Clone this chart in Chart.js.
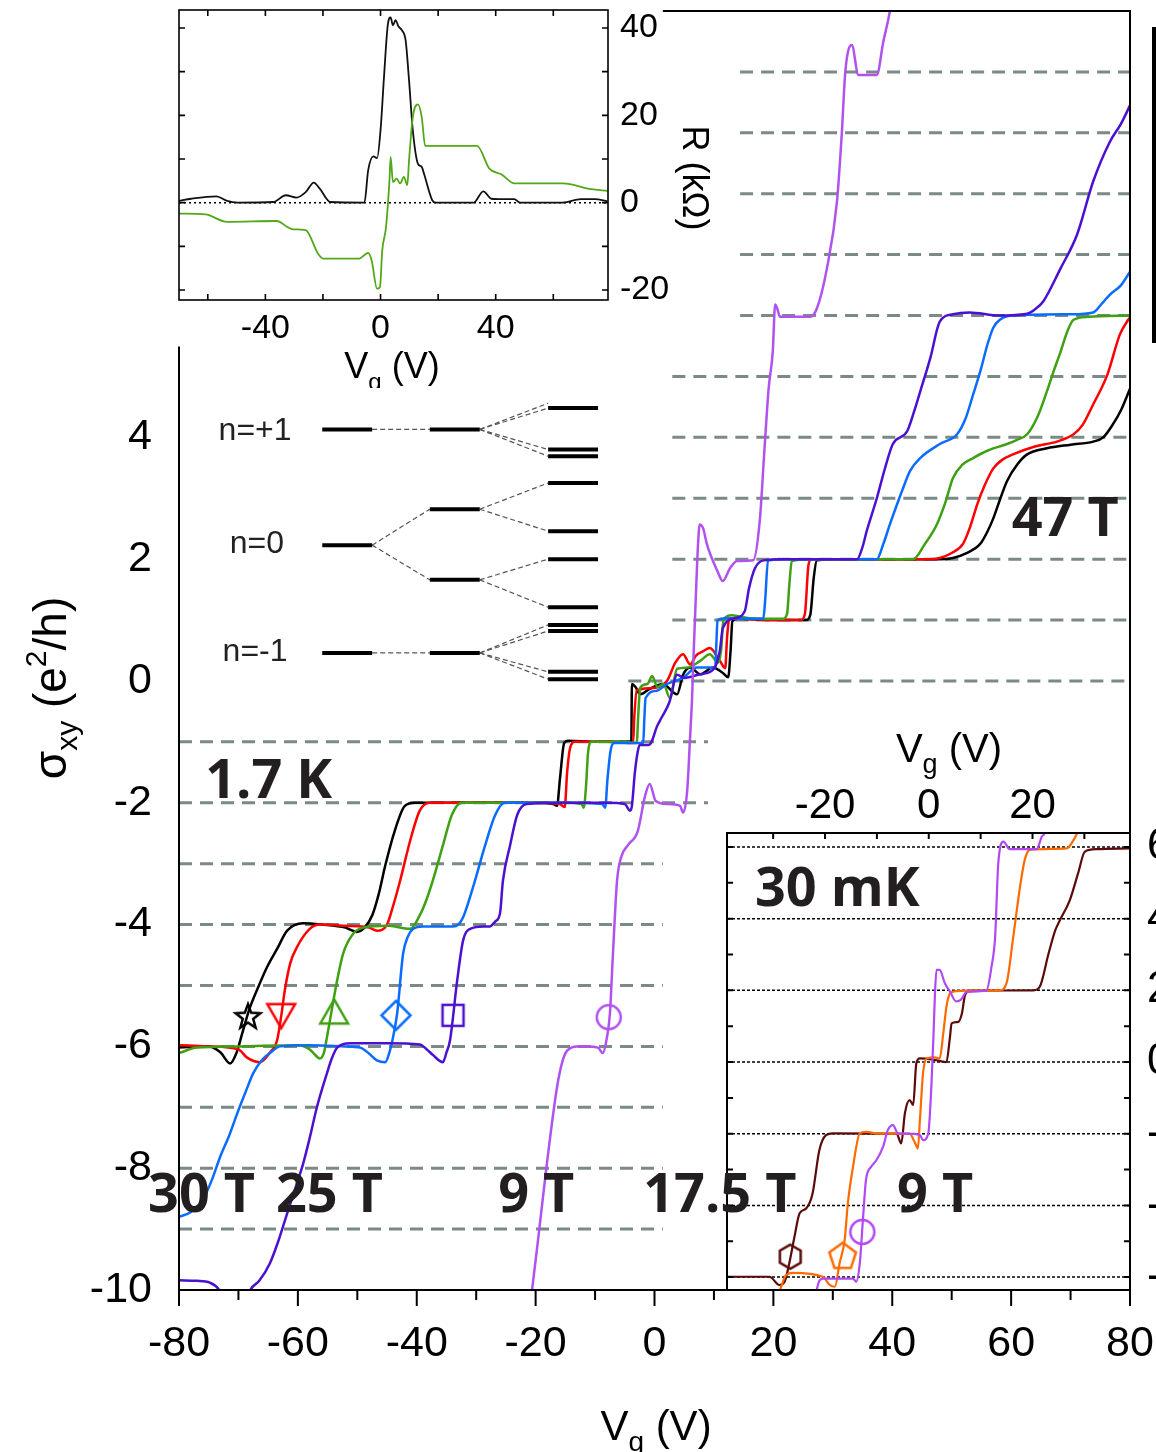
<!DOCTYPE html>
<html>
<head>
<meta charset="utf-8">
<script src="https://cdn.jsdelivr.net/npm/chart.js@4.4.1/dist/chart.umd.min.js"></script>
<style>
  html, body { margin: 0; padding: 0; background: #fff; overflow: hidden; width: 1156px; height: 1452px; }
  canvas { position: absolute; left: 0; top: 0; }
</style>
</head>
<body>
<canvas id="main" width="1156" height="1452"></canvas>
<canvas id="insetR" width="1156" height="1452"></canvas>
<canvas id="insetLow" width="1156" height="1452"></canvas>
<script>
// ---- main panel, 1.7 K : sigma_xy (e^2/h) vs Vg (V) ----
const mainXTicks = [-80, -60, -40, -20, 0, 20, 40, 60, 80];
const mainXMinor = [-70, -50, -30, -10, 10, 30, 50, 70];
const mainYTicks = [4, 2, 0, -2, -4, -6, -8, -10];

const black = [[-80,-6.02],[-75,-6.0],[-73,-6.1],[-71.4,-6.28],[-70.3,-6.1],[-69.4,-5.8],[-68.2,-5.4],[-66.9,-5.08],[-65.2,-4.7],[-63.5,-4.4],[-61.8,-4.1],[-59.1,-3.98],[-56,-4.0],[-52,-4.05],[-50.1,-4.12],[-48.8,-4.05],[-47.5,-3.85],[-46.4,-3.5],[-45.3,-3.03],[-43.7,-2.46],[-42,-2.05],[-40.3,-2.0],[-30,-2.0],[-20,-2.0],[-17,-2.02],[-16.4,-2.05],[-15.9,-1.6],[-15.2,-1.02],[-14.5,-0.98],[-10,-1.0],[-4.2,-1.0],[-3.9,-0.98],[-3.8,-0.05],[-3.2,-0.1],[-2.4,-0.22],[-0.8,-0.13],[1.4,-0.05],[3.8,-0.22],[4.8,0.1],[6,0.22],[7.7,0.11],[9.8,0.22],[11.5,0.13],[12.4,0.06],[12.8,0.5],[13.1,0.98],[14,1.02],[20,1.0],[25.5,1.0],[26.2,1.08],[26.8,1.7],[27.3,1.98],[30,2.0],[40,2.0],[48,2.0],[50.2,2.02],[52.5,2.1],[54.8,2.25],[56,2.45],[57,2.67],[58.2,3.0],[59.3,3.28],[61,3.55],[62.7,3.72],[66,3.82],[70,3.88],[73.8,3.93],[75.5,4.0],[77.1,4.21],[78.5,4.45],[80,4.8]];
const red = [[-80,-5.98],[-75,-6.0],[-70,-6.05],[-68.6,-6.18],[-66.4,-6.26],[-64.7,-6.1],[-63.5,-5.9],[-62.8,-5.5],[-62.2,-5.08],[-61.3,-4.64],[-60.1,-4.36],[-58,-4.07],[-56.3,-4.0],[-52,-4.02],[-48,-4.05],[-46.7,-4.1],[-45,-4.0],[-44,-3.7],[-42.8,-3.28],[-41.1,-2.62],[-39.5,-2.13],[-37.8,-2.0],[-30,-2.0],[-20,-2.0],[-16,-2.02],[-15.1,-2.07],[-14.7,-1.5],[-14.2,-1.1],[-13.4,-1.0],[-8,-1.0],[-3.6,-1.02],[-3.4,-0.6],[-3.0,-0.16],[-0.8,-0.12],[2.1,0.0],[3.5,0.3],[4.8,0.44],[6,0.27],[7.0,0.42],[8.2,0.49],[9.3,0.54],[11.0,0.33],[11.9,0.21],[12.2,0.7],[12.6,1.03],[15,1.02],[20,1.0],[24.6,1.0],[25.3,1.1],[25.9,1.9],[26.4,2.0],[30,2.0],[40,2.0],[46,2.0],[48,2.02],[50,2.1],[51.9,2.25],[53,2.5],[54.3,2.9],[55.5,3.2],[57,3.49],[58.5,3.63],[60.3,3.72],[64,3.85],[67.7,3.93],[70.5,4.05],[72,4.2],[73.8,4.54],[76.2,5.03],[78.3,5.69],[79.7,5.93],[80,5.97]];
const green = [[-80,-6.11],[-77,-6.02],[-70,-6.0],[-60,-5.98],[-58,-6.05],[-57,-6.15],[-56.3,-6.2],[-55.6,-6.1],[-55.2,-5.9],[-54.6,-5.57],[-53.4,-4.92],[-52.4,-4.48],[-50.7,-4.15],[-49,-4.05],[-45,-4.02],[-41.1,-4.07],[-39.5,-3.85],[-38.4,-3.6],[-37.3,-3.28],[-35.6,-2.7],[-34.1,-2.2],[-32.4,-2.0],[-25,-2.0],[-15,-2.0],[-12.3,-2.02],[-11.9,-2.08],[-11.5,-1.7],[-11.2,-1.2],[-10.6,-1.0],[-5,-1.0],[-3.0,-1.02],[-2.7,-0.5],[-2.4,-0.11],[-1.2,-0.05],[-0.4,0.08],[0.5,-0.1],[1.5,-0.05],[2.6,-0.28],[3.8,0.2],[5.5,0.22],[7.7,0.33],[9.3,0.44],[10.7,0.3],[11.2,0.5],[11.6,1.0],[13,1.08],[16,1.03],[21.6,1.02],[22.3,1.1],[22.7,1.6],[23.1,1.97],[26,2.0],[35,2.0],[40,2.0],[43.5,2.0],[45.5,2.25],[47.5,2.57],[49,2.95],[50.2,3.33],[51.8,3.55],[53.6,3.66],[56,3.78],[59.3,3.89],[61,3.96],[62.7,4.05],[64.5,4.35],[66,4.75],[67.2,5.1],[68.3,5.4],[69.5,5.75],[70.5,5.93],[73,5.98],[80,6.0]];
const blue = [[-80,-8.8],[-78,-8.72],[-76,-8.52],[-74.5,-8.2],[-73.1,-7.82],[-71.5,-7.45],[-70.2,-7.1],[-68.8,-6.75],[-67.5,-6.44],[-66,-6.22],[-64.7,-6.11],[-63,-6.0],[-58,-5.98],[-52,-6.0],[-49.5,-6.02],[-48,-6.12],[-46.7,-6.23],[-45.3,-6.26],[-44.6,-6.1],[-44.2,-5.95],[-43.3,-5.46],[-42.3,-4.48],[-41.5,-4.2],[-40.6,-4.07],[-39,-4.03],[-36,-4.03],[-33.9,-4.03],[-33,-4.0],[-32.2,-3.88],[-31.2,-3.6],[-30.2,-3.28],[-28.5,-2.7],[-26.8,-2.2],[-25.2,-2.0],[-15,-2.0],[-8.8,-2.02],[-8.3,-2.08],[-7.9,-1.6],[-7.4,-1.15],[-6.8,-1.02],[-3,-1.02],[-1.9,-1.02],[-1.7,-0.6],[-1.5,-0.28],[0.4,-0.16],[2.1,-0.05],[4.8,0.05],[7.1,0.22],[9.3,0.22],[10.2,0.2],[10.4,0.6],[10.6,1.0],[12,1.03],[15,1.02],[18.3,1.02],[18.6,1.3],[19.1,1.98],[22,2.0],[30,2.0],[35,2.0],[37.4,2.0],[38.5,2.25],[39.6,2.57],[41.8,3.16],[43,3.45],[44.7,3.66],[48,3.89],[50.9,4.05],[52.3,4.3],[53.6,4.7],[55,5.15],[56,5.52],[57,5.8],[58.1,5.93],[60,6.0],[70,6.02],[73.8,6.05],[75.3,6.2],[76.6,6.34],[78.5,6.5],[80,6.72]];
const indigo = [[-80,-9.84],[-77,-9.85],[-74.8,-9.88],[-73.1,-10.02],[-72,-10.3],[-69,-10.3],[-68,-10.0],[-66.5,-9.85],[-64.7,-9.56],[-63.3,-9.2],[-61.8,-8.74],[-60.5,-8.35],[-59.1,-7.92],[-58,-7.5],[-56.8,-7.0],[-55.1,-6.44],[-54.3,-6.2],[-53.4,-6.02],[-51.2,-5.95],[-45,-5.95],[-39.5,-5.97],[-38.3,-6.05],[-37.3,-6.14],[-35.6,-6.26],[-35,-6.1],[-34.4,-5.9],[-33.2,-4.92],[-32.2,-4.26],[-31,-4.07],[-28.8,-4.03],[-27.7,-4.03],[-26.8,-3.95],[-26,-3.82],[-25.5,-3.28],[-24.3,-2.7],[-23.1,-2.2],[-21.5,-2.02],[-15,-2.0],[-8,-2.0],[-5,-2.02],[-4.1,-2.13],[-3.8,-2.05],[-3.3,-1.5],[-2.8,-1.15],[-2.5,-1.05],[-1,-1.05],[-0.5,-1.0],[0.4,-0.75],[1.2,-0.6],[2.5,-0.35],[3.8,0.1],[5,0.05],[7.7,0.11],[10,0.2],[11,0.5],[11.5,0.87],[13.5,1.03],[15.2,1.15],[15.9,1.52],[16.9,1.85],[18.3,1.98],[22,2.0],[30,2.0],[34.1,2.0],[35,2.2],[35.7,2.46],[37.4,3.0],[38.8,3.5],[40.1,3.89],[42.5,4.1],[43.6,4.4],[44.7,4.75],[46.4,5.3],[48,5.9],[50.2,6.02],[53,6.05],[58,6.0],[62.7,6.03],[64,6.1],[65.4,6.23],[68.3,6.77],[71.1,7.33],[73.8,8.2],[76.6,8.85],[78.5,9.15],[80,9.45]];
const violet = [[-21,-10.3],[-20.6,-10],[-19.5,-9.1],[-18.1,-7.92],[-16.4,-6.67],[-15.5,-6.25],[-14.7,-6.07],[-13,-6.0],[-11.4,-6.0],[-9.5,-6.02],[-8.7,-6.11],[-8.0,-5.85],[-7.5,-5.46],[-7,-4.5],[-6.3,-3.28],[-5.6,-2.89],[-4.5,-2.7],[-2.8,-2.46],[-1.6,-1.89],[-0.8,-1.69],[0.2,-1.97],[2.1,-2.02],[4.3,-2.05],[4.8,-2.16],[5.5,-1.8],[6.0,-0.9],[6.3,-0.33],[6.6,0.5],[7.0,1.5],[7.3,2.2],[7.6,2.57],[8.2,2.5],[8.8,2.25],[10.6,1.8],[11.5,1.64],[12.7,1.85],[13.9,1.97],[16.6,1.98],[17.7,2.62],[18.5,3.8],[19.2,4.8],[19.9,5.41],[20.3,6.18],[20.7,6.1],[21.1,5.98],[26.2,5.98],[27.3,6.11],[29,6.77],[30.7,7.87],[31.5,8.97],[32.1,10],[33.2,10.44],[34.3,9.95],[37.4,9.95],[38.5,10.5],[39.6,11.0],[40,11.3]];

// marker symbols: star, down triangle, up triangle, diamond, square, circle
const markerX = [-68.4, -62.8, -53.9, -43.5, -33.9, -7.7];
const markerY = [-5.52, -5.49, -5.44, -5.49, -5.49, -5.52];

// dashed plateau guides: [level, from Vg, to Vg]
const guideLines = [[10,14.4,80],[9,14.4,80],[8,14.4,80],[7,14.4,80],[6,14.4,80],[5,3,80],[4,3,80],[3,3,80],[2,3,80],[1,3,80],[0,-4.4,80],[-1,-80,9],[-2,-80,9],[-3,-80,1.4],[-4,-80,1.4],[-5,-80,1.4],[-6,-80,1.4],[-7,-80,1.4],[-8,-80,1.4],[-9,-80,1.4]];

// Landau level sketch: solid levels [x1, x2, y], connectors [x1, y1, x2, y2]
const levelSolid = [[-55.9,-47.5,4.13],[-37.8,-29.4,4.13],[-17.9,-9.5,4.48],[-17.9,-9.5,3.80],[-17.9,-9.5,3.69],
  [-55.9,-47.5,2.23],[-37.8,-29.4,2.82],[-37.8,-29.4,1.66],[-17.9,-9.5,3.25],[-17.9,-9.5,2.46],[-17.9,-9.5,2.0],[-17.9,-9.5,1.21],
  [-55.9,-47.5,0.46],[-37.8,-29.4,0.46],[-17.9,-9.5,0.92],[-17.9,-9.5,0.82],[-17.9,-9.5,0.15],[-17.9,-9.5,0.03]];
const levelDash = [[-47.5,4.13,-37.8,4.13],[-29.4,4.13,-17.9,4.56],[-29.4,4.13,-17.9,4.48],[-29.4,4.13,-17.9,3.80],[-29.4,4.13,-17.9,3.69],
  [-47.5,2.23,-37.8,2.82],[-47.5,2.23,-37.8,1.66],[-29.4,2.82,-17.9,3.25],[-29.4,2.82,-17.9,2.46],[-29.4,1.66,-17.9,2.0],[-29.4,1.66,-17.9,1.21],
  [-47.5,0.46,-37.8,0.46],[-29.4,0.46,-17.9,0.92],[-29.4,0.46,-17.9,0.82],[-29.4,0.46,-17.9,0.15],[-29.4,0.46,-17.9,0.03]];
const levelNames = ['n=+1', 'n=0', 'n=-1'];
const levelNameX = [-67.2, -66.9, -67.2];
const levelNameY = [4.1, 2.25, 0.48];

// field / temperature labels (main-panel coordinates, left edge + baseline)
const noteText = ['1.7 K', '47 T', '30 T', '25 T', '9 T', '17.5 T', '9 T', '30 mK'];
const noteX = [-75.6, 60.1, -85.2, -63.7, -26.3, -1.9, 40.8, 16.9];
const noteY = [-1.93, 2.38, -8.72, -8.72, -8.72, -8.72, -8.72, -3.69];

// ---- upper inset: R (kOhm) vs Vg ----
const rXTicks = [-40, 0, 40];
const rYTicks = [40, 20, 0, -20];
const rxx = [[-70.1,0.4],[-65.8,0.9],[-57,1.45],[-53.3,0.4],[-49.6,0],[-37.2,0.15],[-32.9,1.7],[-29.2,1.15],[-26,2.4],[-23.2,4.6],[-21.1,3.2],[-17.4,0.15],[-5.6,0],[-4.3,7.4],[-2.5,10.6],[-1.2,10.2],[0,16.6],[1.2,28.8],[2.5,40.6],[3.5,42.4],[4.3,40.6],[5.2,41.8],[6.2,40.4],[7.4,39.5],[8.7,37.2],[9.9,28],[11.2,16.6],[13,8.9],[14.3,8.2],[15.1,6.6],[18,0.5],[19.2,0],[32.3,0],[35.7,2.6],[38.5,0.9],[42.2,0.8],[46.5,0.8],[48.4,0],[63.3,0],[69.5,0.8],[74.4,0.8],[78.8,0.3]];
const rxy = [[-70,-2.5],[-60.8,-2.7],[-53.3,-4.4],[-36,-4.2],[-32.3,-5.6],[-30.4,-6.1],[-26,-6.3],[-21.7,-11.7],[-19.9,-12.8],[-7.4,-12.8],[-4.3,-11.5],[-3.1,-13.2],[-1.2,-19.7],[-0.2,-19.3],[0.6,-10.9],[1.9,-5.6],[3.1,5.1],[3.5,10.5],[4.3,4.7],[5.6,5.5],[6.8,4.4],[8.1,5.9],[9.3,4.0],[9.9,9.7],[11.2,19.6],[13,22.5],[14.3,19.6],[15.5,13],[33.5,13],[37.8,7.8],[42.2,6.4],[46.5,4.4],[63.3,4.4],[73.2,3.1],[78.8,2.7]];

// ---- lower inset, 30 mK ----
const lowXTicks = [-20, 0, 20];
const lowYTicks = [6, 4, 2, 0, -2, -4, -6];
const lowLevels = [6, 4, 2, 0, -2, -4, -6];
const maroon = [[-39.1,-5.99],[-30.7,-5.99],[-28.8,-6.22],[-27.8,-6.13],[-26.9,-5.62],[-25.9,-4.88],[-24.9,-4.22],[-23.6,-4.08],[-22.4,-3.67],[-21.1,-2.46],[-19.8,-2.04],[-18.5,-1.99],[-6.2,-2.0],[-5.3,-2.27],[-4.6,-1.43],[-3.7,-1.06],[-3.0,-1.2],[-2.4,-0.04],[-1.7,0.1],[1.5,0.05],[3.4,0.0],[4.1,0.71],[4.4,1.08],[5.7,1.12],[6.4,1.36],[7.0,1.87],[8.0,1.99],[20.2,2.0],[21.4,2.1],[23.1,3.03],[24.4,3.68],[25.3,3.96],[27.2,4.52],[28.8,5.27],[30.1,5.87],[32.4,5.94],[38.8,5.96]];
const orange = [[-28.8,-6.41],[-27.5,-5.94],[-26.2,-5.88],[-20.4,-5.99],[-19.1,-6.22],[-18.1,-6.27],[-17.2,-5.62],[-16.2,-4.95],[-15.6,-3.94],[-14.6,-2.92],[-13.3,-1.99],[-12.1,-1.95],[-9.5,-2.0],[-3.7,-2.0],[-2.7,-2.24],[-2.1,-2.41],[-1.7,-1.6],[-1.1,-0.31],[-0.4,0.1],[1.2,0.13],[2.1,0.1],[2.8,0.8],[3.4,1.54],[4.1,1.91],[5.3,1.98],[7.3,1.99],[13.7,2.0],[15.0,2.2],[16.3,3.5],[17.6,4.89],[18.5,5.64],[19.5,5.92],[26.6,5.96],[27.9,6.19],[28.6,6.38],[29.5,6.7]];
const lilac = [[-21.7,-6.41],[-21.1,-6.1],[-20.4,-6.04],[-14.6,-6.04],[-14.0,-6.13],[-13.3,-5.62],[-12.7,-4.41],[-12.1,-3.29],[-11.1,-2.92],[-10.1,-2.74],[-8.8,-2.36],[-7.9,-1.9],[-6.9,-1.76],[-5.9,-2.0],[-4.3,-2.0],[-1.7,-2.04],[-1.1,-2.18],[-0.1,-2.0],[0.5,-0.69],[0.9,0.7],[1.2,1.92],[1.5,2.57],[2.1,2.57],[3.1,2.2],[4.1,1.96],[5.3,1.69],[6.2,1.74],[7.3,1.96],[11.1,1.99],[12.1,2.66],[12.8,3.5],[13.4,5.54],[14.4,6.15],[15.6,5.94],[20.8,5.94],[21.8,6.29],[22.4,6.39],[23,6.8]];
// hexagon, pentagon, circle
const lowMarkX = [-26.7, -16.6, -12.8];
const lowMarkY = [-5.43, -5.43, -4.74];

Chart.defaults.animation = false;
Chart.defaults.color = '#000';
const REG = '"Liberation Sans", Arial, sans-serif';
const BOLD = '"Open Sans", "DejaVu Sans", sans-serif';
Chart.defaults.font.family = REG;

function pts(a) { return a.map(p => ({ x: p[0], y: p[1] })); }
function curve(a, color, w) {
  return { data: pts(a), borderColor: color, borderWidth: w, pointRadius: 0, fill: false,
           cubicInterpolationMode: 'monotone' };
}
function symbol(kind, color, size) {
  const c = document.createElement('canvas');
  const s = Math.ceil(size + 6);
  c.width = s; c.height = s;
  const g = c.getContext('2d');
  g.strokeStyle = color; g.lineWidth = 2.5;
  const m = s / 2, r = size / 2;
  g.beginPath();
  if (kind === 'circle') g.arc(m, m, r, 0, Math.PI * 2);
  else if (kind === 'square') g.rect(m - r, m - r, 2 * r, 2 * r);
  else {
    const n = { star: 10, tridown: 3, triup: 3, diamond: 4, pentagon: 5, hexagon: 6 }[kind];
    const start = kind === 'tridown' ? 90 : -90;
    const dy = kind === 'triup' ? r * 0.2 : kind === 'tridown' ? -r * 0.2 : 0;
    for (let i = 0; i < n; i++) {
      const rr = (kind === 'star' && i % 2) ? r * 0.42 : r;
      const ang = (start + i * 360 / n) * Math.PI / 180;
      const px = m + rr * Math.cos(ang), py = m + dy + rr * Math.sin(ang);
      if (i) g.lineTo(px, py); else g.moveTo(px, py);
    }
    g.closePath();
  }
  g.stroke();
  return c;
}
function marker(x, y, img) {
  return { data: [{ x: x, y: y }], showLine: false, pointStyle: img, pointRadius: 10, order: -1 };
}
function fixedAxis(opts, size, vertical) {
  return Object.assign({
    type: 'linear',
    grid: { display: false },
    border: { display: false },
    afterFit: s => {
      if (vertical) s.width = size; else s.height = size;
      s.paddingLeft = s.paddingRight = s.paddingTop = s.paddingBottom = 0;
    }
  }, opts);
}
function setTicks(list) { return s => { s.ticks = list.map(v => ({ value: v })); }; }
function tickMarks(ctx, scale, values, pos, len, horizontal) {
  ctx.beginPath();
  values.forEach(v => {
    const p = scale.getPixelForValue(v);
    if (horizontal) { ctx.moveTo(p, pos); ctx.lineTo(p, pos + len); }
    else { ctx.moveTo(pos, p); ctx.lineTo(pos + len, p); }
  });
  ctx.stroke();
}
// parts: [text, fontSize, baseline shift]
function richText(ctx, parts, family, x, y) {
  let total = 0;
  parts.forEach(p => { ctx.font = p[1] + 'px ' + family; total += ctx.measureText(p[0]).width; });
  let cx = x - total / 2;
  ctx.textAlign = 'left'; ctx.textBaseline = 'alphabetic';
  parts.forEach(p => {
    ctx.font = p[1] + 'px ' + family;
    ctx.fillText(p[0], cx, y + (p[2] || 0));
    cx += ctx.measureText(p[0]).width;
  });
}

// ---------- main chart ----------
const mainSets = [];
mainSets.push(marker(markerX[0], markerY[0], symbol('star', '#000', 26)));
mainSets.push(marker(markerX[1], markerY[1], symbol('tridown', '#ff0000', 32)));
mainSets.push(marker(markerX[2], markerY[2], symbol('triup', '#3ea012', 32)));
mainSets.push(marker(markerX[3], markerY[3], symbol('diamond', '#0a6cff', 29)));
mainSets.push(marker(markerX[4], markerY[4], symbol('square', '#4a12d0', 21)));
mainSets.push(marker(markerX[5], markerY[5], symbol('circle', '#b052f0', 24)));
mainSets.push(curve(violet, '#b052f0', 2.5));
mainSets.push(curve(indigo, '#4a12d0', 2.5));
mainSets.push(curve(blue, '#0a6cff', 2.5));
mainSets.push(curve(green, '#3ea012', 2.5));
mainSets.push(curve(red, '#ff0000', 2.5));
mainSets.push(curve(black, '#000000', 2.5));
levelSolid.forEach(s => mainSets.push({ data: [{ x: s[0], y: s[2] }, { x: s[1], y: s[2] }],
  borderColor: '#000', borderWidth: 4, pointRadius: 0, order: 5 }));
levelDash.forEach(s => mainSets.push({ data: [{ x: s[0], y: s[1] }, { x: s[2], y: s[3] }],
  borderColor: '#555', borderWidth: 1.2, borderDash: [5, 3], pointRadius: 0, order: 5 }));
guideLines.forEach(g => mainSets.push({ data: [{ x: g[1], y: g[0] }, { x: g[2], y: g[0] }],
  borderColor: '#7b8987', borderWidth: 3, borderDash: [13, 8], pointRadius: 0, order: 10 }));

const mainDeco = {
  id: 'mainDeco',
  afterDraw(chart) {
    const { ctx, chartArea: a, scales: { x, y } } = chart;
    ctx.save();
    ctx.strokeStyle = '#000'; ctx.lineWidth = 2;
    ctx.beginPath();
    ctx.moveTo(a.left, y.getPixelForValue(5.49));
    ctx.lineTo(a.left, a.bottom); ctx.lineTo(a.right, a.bottom);
    ctx.lineTo(a.right, a.top); ctx.lineTo(x.getPixelForValue(1.4), a.top);
    ctx.stroke();
    tickMarks(ctx, x, mainXTicks, a.bottom, 16, true);
    tickMarks(ctx, x, mainXMinor, a.bottom, 10, true);
    ctx.fillStyle = '#222';
    ctx.font = '32px ' + REG; ctx.textAlign = 'center'; ctx.textBaseline = 'middle';
    levelNames.forEach((t, i) => ctx.fillText(t, x.getPixelForValue(levelNameX[i]), y.getPixelForValue(levelNameY[i])));
    ctx.fillStyle = '#000';
    richText(ctx, [['V', 42], ['g', 28, 11], [' (V)', 42]], REG, 656, 1440);
    ctx.save();
    ctx.translate(66, 688); ctx.rotate(-Math.PI / 2);
    richText(ctx, [['σ', 46], ['xy', 30, 11], [' (e', 46], ['2', 30, -20], ['/h)', 46]], REG, 0, 0);
    ctx.restore();
    ctx.fillRect(1152, 27, 5, 316);
    ctx.restore();
  }
};

const mainChart = new Chart(document.getElementById('main'), {
  type: 'line',
  data: { datasets: mainSets },
  options: {
    responsive: false,
    layout: { padding: { top: 10, right: 26, left: 0, bottom: 0 } },
    plugins: { legend: { display: false }, tooltip: { enabled: false } },
    scales: {
      x: fixedAxis({ min: -80, max: 80, afterBuildTicks: setTicks(mainXTicks),
        ticks: { font: { family: REG, size: 43 }, padding: 20, maxRotation: 0, autoSkip: false, callback: v => String(v) } }, 162, false),
      y: fixedAxis({ min: -10, max: 11, afterBuildTicks: setTicks(mainYTicks),
        ticks: { font: { family: REG, size: 43 }, padding: 19, autoSkip: false, callback: v => String(v) } }, 179, true)
    }
  },
  plugins: [mainDeco]
});

// ---------- upper inset ----------
const insetRDeco = {
  id: 'insetRDeco',
  beforeDraw(chart) {
    const { ctx, chartArea: a } = chart;
    ctx.save(); ctx.fillStyle = '#fff'; ctx.fillRect(a.left, a.top, a.right - a.left, a.bottom - a.top); ctx.restore();
  },
  afterDraw(chart) {
    const { ctx, chartArea: a, scales: { x, y } } = chart;
    ctx.save();
    ctx.strokeStyle = '#000'; ctx.lineWidth = 1.6;
    ctx.strokeRect(a.left, a.top, a.right - a.left, a.bottom - a.top);
    const xt = [-60, -40, -20, 0, 20, 40, 60], yt = [40, 30, 20, 10, 0, -10, -20];
    tickMarks(ctx, x, xt, a.bottom, -6, true);
    tickMarks(ctx, x, xt, a.top, 6, true);
    tickMarks(ctx, y, yt, a.left, 6, false);
    tickMarks(ctx, y, yt, a.right, -6, false);
    ctx.beginPath(); ctx.rect(0, 0, 1156, 388); ctx.clip();
    ctx.fillStyle = '#000';
    richText(ctx, [['V', 36], ['g', 24, 12], [' (V)', 36]], REG, 392, 378);
    ctx.translate(683, 178); ctx.rotate(Math.PI / 2);
    richText(ctx, [['R (kΩ)', 36]], REG, 0, 0);
    ctx.restore();
  }
};
new Chart(document.getElementById('insetR'), {
  type: 'line',
  data: { datasets: [
    curve(rxy, '#52a818', 1.8),
    curve(rxx, '#111111', 1.8),
    { data: [{ x: -70, y: 0 }, { x: 79, y: 0 }], borderColor: '#000', borderWidth: 1.5, borderDash: [2, 3], pointRadius: 0 }
  ] },
  options: {
    responsive: false,
    layout: { padding: { left: 179, top: 10, right: 478, bottom: 1112 } },
    plugins: { legend: { display: false }, tooltip: { enabled: false } },
    scales: {
      x: fixedAxis({ position: 'bottom', min: -70, max: 79, afterBuildTicks: setTicks(rXTicks),
        ticks: { font: { family: REG, size: 34 }, padding: 0, maxRotation: 0, autoSkip: false, callback: v => String(v) } }, 40, false),
      y: fixedAxis({ position: 'right', min: -22.29, max: 44.12, afterBuildTicks: setTicks(rYTicks),
        ticks: { font: { family: REG, size: 34 }, padding: 4, autoSkip: false, callback: v => String(v) } }, 70, true)
    }
  },
  plugins: [insetRDeco]
});

// ---------- lower inset (30 mK) ----------
const lowSets = [
  marker(lowMarkX[0], lowMarkY[0], symbol('hexagon', '#5a0a0a', 24)),
  marker(lowMarkX[1], lowMarkY[1], symbol('pentagon', '#ff6a00', 28)),
  marker(lowMarkX[2], lowMarkY[2], symbol('circle', '#b148f5', 24)),
  curve(lilac, '#b148f5', 2.2),
  curve(orange, '#ff6a00', 2.2),
  curve(maroon, '#5a0a0a', 2.2)
];
lowLevels.forEach(v => lowSets.push({ data: [{ x: -38.9, y: v }, { x: 38.8, y: v }],
  borderColor: '#000', borderWidth: 1.5, borderDash: [3, 2], pointRadius: 0, order: 10 }));

const lowDeco = {
  id: 'lowDeco',
  beforeDraw(chart) {
    const { ctx, chartArea: a } = chart;
    ctx.save(); ctx.fillStyle = '#fff'; ctx.fillRect(a.left, a.top, a.right - a.left, a.bottom - a.top); ctx.restore();
  },
  afterDraw(chart) {
    const { ctx, chartArea: a, scales: { x, y } } = chart;
    ctx.save();
    ctx.strokeStyle = '#000'; ctx.lineWidth = 2;
    ctx.strokeRect(a.left, a.top, a.right - a.left, a.bottom - a.top);
    const xt = [-30, -20, -10, 0, 10, 20, 30], yt = [-6, -5, -4, -3, -2, -1, 0, 1, 2, 3, 4, 5, 6];
    tickMarks(ctx, x, xt, a.top, 6, true);
    tickMarks(ctx, y, yt, a.left, 6, false);
    tickMarks(ctx, y, yt, a.right, -6, false);
    ctx.fillStyle = '#000';
    richText(ctx, [['V', 40], ['g', 27, 11], [' (V)', 40]], REG, 949, 762);
    // annotations on top of everything, placed in main-panel coordinates
    const mx = mainChart.scales.x, my = mainChart.scales.y;
    ctx.fillStyle = '#231f20';
    ctx.font = 'bold 54px ' + BOLD; ctx.textAlign = 'left'; ctx.textBaseline = 'alphabetic';
    noteText.forEach((t, i) => ctx.fillText(t, mx.getPixelForValue(noteX[i]), my.getPixelForValue(noteY[i])));
    ctx.restore();
  }
};
new Chart(document.getElementById('insetLow'), {
  type: 'line',
  data: { datasets: lowSets },
  options: {
    responsive: false,
    layout: { padding: { left: 727, top: 773, right: 0, bottom: 162 } },
    plugins: { legend: { display: false }, tooltip: { enabled: false } },
    scales: {
      x: fixedAxis({ position: 'top', min: -38.9, max: 38.8, afterBuildTicks: setTicks(lowXTicks),
        ticks: { font: { family: REG, size: 42 }, padding: -7, maxRotation: 0, autoSkip: false, callback: v => String(v) } }, 60, false),
      y: fixedAxis({ position: 'right', min: -6.36, max: 6.39, afterBuildTicks: setTicks(lowYTicks),
        ticks: { font: { family: REG, size: 44 }, padding: 9, autoSkip: false, callback: v => String(v) } }, 26, true)
    }
  },
  plugins: [lowDeco]
});
</script>
</body>
</html>
